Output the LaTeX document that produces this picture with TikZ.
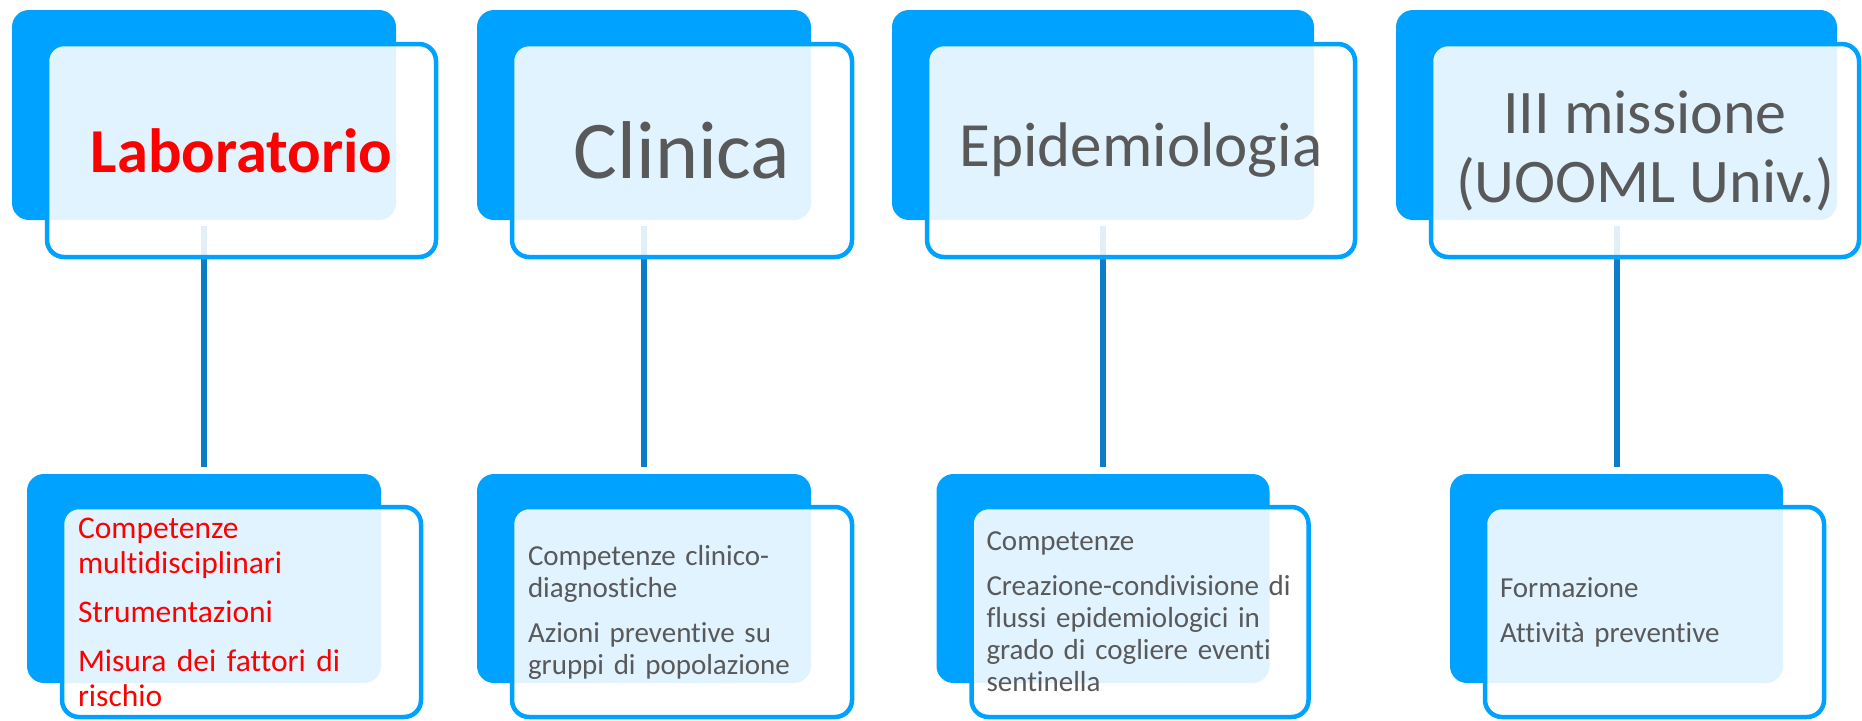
\documentclass[tikz,border=0pt]{standalone}
\usepackage{fontspec}
\setmainfont{Carlito}[Ligatures=NoCommon]
\usepackage{xcolor}
\usetikzlibrary{positioning, calc}
\definecolor{boxblue}{RGB}{0,162,255}
\definecolor{linkblue}{RGB}{11,125,200}
\definecolor{textgray}{RGB}{89,89,89}

\begin{document}
\begin{tikzpicture}[
    x=1pt, y=-1pt,
    node distance=254pt,
    backbox/.style={rectangle, fill=boxblue, rounded corners=17pt, inner sep=0pt, outer sep=0pt},
    frontbox/.style={rectangle, draw=boxblue, line width=4.5pt, fill=white, fill opacity=0.88, text opacity=1, rounded corners=17pt, inner sep=0pt, outer sep=0pt, text=textgray},
    headbox/.style={frontbox, minimum height=213pt, align=center, font=\fontsize{62}{69}\selectfont},
    itembox/.style={frontbox, minimum height=210pt, align=left, font=\fontsize{29}{32}\selectfont},
    linkline/.style={draw=linkblue, line width=6pt, shorten <=6pt, shorten >=7pt}
]
    \useasboundingbox (0,0) rectangle (1862,720);

    \node[backbox, minimum width=384pt, minimum height=210pt] (labtop) at (204,115) {};
    \node[backbox, minimum width=334pt, minimum height=210pt] (clintop) at (644,115) {};
    \node[backbox, minimum width=422pt, minimum height=210pt] (epitop) at (1103,115) {};
    \node[backbox, minimum width=441pt, minimum height=210pt] (misstop) at (1616.5,115) {};

    \node[backbox, minimum width=354pt, minimum height=209pt, below=of labtop] (labbot) {};
    \node[backbox, minimum width=334pt, minimum height=209pt, below=of clintop] (clinbot) {};
    \node[backbox, minimum width=333pt, minimum height=209pt, below=of epitop] (epibot) {};
    \node[backbox, minimum width=333pt, minimum height=209pt, below=of misstop] (missbot) {};

    \draw[linkline] (labtop) -- (labbot);
    \draw[linkline] (clintop) -- (clinbot);
    \draw[linkline] (epitop) -- (epibot);
    \draw[linkline] (misstop) -- (missbot);

    \node[headbox, minimum width=389pt, text=red, font=\bfseries\fontsize{62.5}{69}\selectfont] (lab) at ($(labtop)+(37.5,35.5)$) {Laboratorio};
    \node[headbox, minimum width=340pt, font=\fontsize{82}{90}\selectfont] (clin) at ($(clintop)+(38,35.5)$) {Clinica};
    \node[headbox, minimum width=428pt, font=\fontsize{63}{69}\selectfont] (epi) at ($(epitop)+(38,35.5)$) {Epidemiologia};
    \node[headbox, minimum width=428pt] (miss) at ($(misstop)+(28.5,35.5)$) {III missione\\(UOOML Univ.)};

    \node[itembox, minimum width=359pt, text width=327pt, text=red, font=\fontsize{31.5}{35}\selectfont] (labitems) at ($(labbot)+(37.5,33.5)$) {Competenze\\multidisciplinari\\[14pt]Strumentazioni\\[14pt]Misura dei fattori di\\rischio};
    \node[itembox, minimum width=340pt, text width=308pt] (clinitems) at ($(clinbot)+(38,33.5)$) {Competenze clinico-\\diagnostiche\\[13pt]Azioni preventive su\\gruppi di popolazione};
    \node[itembox, minimum width=337pt, text width=307pt] (epiitems) at ($(epibot)+(37,33.5)$) {Competenze\\[13pt]Creazione-condivisione di\\flussi epidemiologici in\\grado di cogliere eventi\\sentinella};
    \node[itembox, minimum width=339pt, text width=309pt] (missitems) at ($(missbot)+(38,33.5)$) {Formazione\\[13pt]Attività preventive};
\end{tikzpicture}
\end{document}
